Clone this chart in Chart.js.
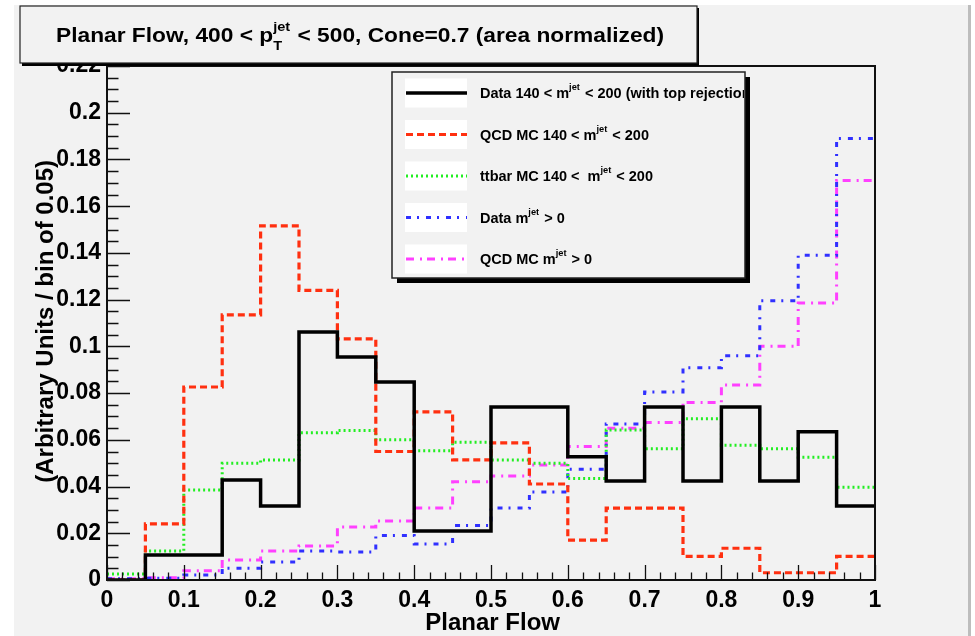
<!DOCTYPE html>
<html><head><meta charset="utf-8">
<script src="https://cdn.jsdelivr.net/npm/chart.js@4.4.1/dist/chart.umd.min.js"></script>
<style>html,body{margin:0;padding:0;background:#fff;}#wrap{position:relative;width:975px;height:636px;}canvas{display:block;}</style>
</head><body><div id="wrap"><canvas id="c" width="975" height="636"></canvas></div>
<script>
// ---- data ----
const binLow = [0,0.05,0.1,0.15,0.2,0.25,0.3,0.35,0.4,0.45,0.5,0.55,0.6,0.65,0.7,0.75,0.8,0.85,0.9,0.95];
const binEnd = 1.0;
const dataSel  = [0,0.0107,0.0107,0.0428,0.0317,0.1062,0.0955,0.0848,0.021,0.021,0.0741,0.0741,0.0527,0.0424,0.0741,0.0424,0.0741,0.0424,0.0634,0.0317];
const qcdSel   = [0,0.024,0.0826,0.1135,0.1516,0.124,0.1032,0.055,0.072,0.0514,0.0587,0.0411,0.0171,0.0308,0.0308,0.0101,0.0136,0.0031,0.0031,0.0101];
const ttbarSel = [0.0026,0.0124,0.0385,0.050,0.0514,0.063,0.064,0.060,0.0553,0.059,0.0514,0.050,0.0434,0.0642,0.0562,0.069,0.0577,0.0562,0.0525,0.0397];
const dataAll  = [0.0005,0.0008,0.0021,0.005,0.0077,0.0124,0.012,0.019,0.0154,0.0233,0.0308,0.0377,0.0474,0.0668,0.0805,0.0908,0.096,0.1195,0.139,0.189];
const qcdAll   = [0.0005,0.001,0.004,0.0086,0.0124,0.0146,0.0227,0.0253,0.0308,0.042,0.0445,0.0492,0.0571,0.065,0.0674,0.076,0.0835,0.100,0.1186,0.171];
const seriesNames = [
  'Data 140 < m^{jet} < 200 (with top rejection)',
  'QCD MC 140 < m^{jet} < 200',
  'ttbar MC 140 <  m^{jet} < 200',
  'Data m^{jet} > 0',
  'QCD MC m^{jet} > 0'
];
const xTickLabels = ['0','0.1','0.2','0.3','0.4','0.5','0.6','0.7','0.8','0.9','1'];
const titleText = 'Planar Flow, 400 < p^{jet}_{T} < 500, Cone=0.7 (area normalized)';
const xTitle = 'Planar Flow';
const yTitle = '(Arbitrary Units / bin of 0.05)';

// ---- styles ----
const FONT = '"Liberation Sans", Helvetica, Arial, sans-serif';
const BG = '#f2f2f2';
const styles = [
  {color:'#000000', width:3.5, dash:[]},
  {color:'#ff3010', width:3.2, dash:[7,4]},
  {color:'#22ee22', width:3, dash:[2,3]},
  {color:'#3030ff', width:3, dash:[5,6,2,7]},
  {color:'#ff40ff', width:3, dash:[8,6,2,5]}
];
const seriesValues = [dataSel, qcdSel, ttbarSel, dataAll, qcdAll];

function histPoints(vals){
  const pts = binLow.map((x,i)=>({x:x, y:vals[i]}));
  pts.push({x:binEnd, y:vals[vals.length-1]});
  return pts;
}

// ---- rich text helpers ----
function parseRich(s){
  const out=[]; let i=0, buf='';
  while(i<s.length){
    const c=s[i];
    if((c==='^'||c==='_') && s[i+1]==='{'){
      if(buf){out.push({t:buf,k:'n'});buf='';}
      const j=s.indexOf('}',i);
      out.push({t:s.slice(i+2,j),k:c==='^'?'sup':'sub'});
      i=j+1;
    } else {buf+=c;i++;}
  }
  if(buf) out.push({t:buf,k:'n'});
  return out;
}
function layoutRich(ctx,s,size){
  const segs=parseRich(s); let w=0; const items=[];
  const ss=size*0.64;
  for(let n=0;n<segs.length;n++){
    const sg=segs[n];
    if(sg.k==='n'){
      ctx.font=`bold ${size}px ${FONT}`;
      items.push({t:sg.t,k:'n',x:w,size:size});
      w+=ctx.measureText(sg.t).width;
    } else {
      ctx.font=`bold ${ss}px ${FONT}`;
      let sw=ctx.measureText(sg.t).width;
      items.push({t:sg.t,k:sg.k,x:w,size:ss});
      if(n+1<segs.length && segs[n+1].k!=='n' && segs[n+1].k!==sg.k){
        const s2=segs[n+1];
        items.push({t:s2.t,k:s2.k,x:w,size:ss});
        sw=Math.max(sw,ctx.measureText(s2.t).width); n++;
      }
      w+=sw+1;
    }
  }
  return {items,w};
}
function drawRich(ctx,s,x,y,size,opt){
  opt=opt||{};
  const L=layoutRich(ctx,s,size);
  let sx=1;
  if(opt.width) sx=opt.width/L.w;
  ctx.save();
  ctx.translate(x,y);
  ctx.scale(sx,1);
  ctx.textAlign='left'; ctx.textBaseline='alphabetic'; ctx.fillStyle='#000';
  for(const it of L.items){
    ctx.font=`bold ${it.size}px ${FONT}`;
    let dy=0;
    if(it.k==='sup') dy=-size*0.52;
    if(it.k==='sub') dy=size*0.36;
    ctx.fillText(it.t,it.x,dy);
  }
  ctx.restore();
}

// ---- plugin for ROOT-style frame, ticks, legend, title ----
const rootPlugin = {
  id:'rootStyle',
  beforeDraw(chart){
    const ctx=chart.ctx;
    ctx.save();
    ctx.fillStyle='#ffffff'; ctx.fillRect(0,0,975,636);
    ctx.fillStyle=BG; ctx.fillRect(14,5,954,631);
    ctx.fillStyle='#bdbdbd'; ctx.fillRect(968,5,3,631);
    ctx.restore();
  },
  afterDraw(chart){
    const ctx=chart.ctx, a=chart.chartArea;
    const xs=chart.scales.x, ys=chart.scales.y;
    ctx.save();
    // frame
    ctx.strokeStyle='#111'; ctx.lineWidth=2;
    ctx.strokeRect(a.left,a.top,a.right-a.left,a.bottom-a.top);
    // x ticks: major every 0.1, minor every 0.02
    ctx.lineWidth=1.3; ctx.strokeStyle='#111';
    ctx.beginPath();
    for(let k=0;k<=50;k++){
      const px=Math.round(xs.getPixelForValue(k*0.02))+0.5;
      const len=(k%5===0)?15:7.5;
      ctx.moveTo(px,a.bottom); ctx.lineTo(px,a.bottom-len);
    }
    // y ticks: major every 0.02, minor every 0.005
    for(let k=0;k<=44;k++){
      const py=Math.round(ys.getPixelForValue(k*0.005))+0.5;
      const len=(k%4===0)?23:11.5;
      ctx.moveTo(a.left,py); ctx.lineTo(a.left+len,py);
    }
    ctx.stroke();

    // legend
    const L={x:392,y:72,w:353,h:206};
    ctx.fillStyle='#000'; ctx.fillRect(L.x+5,L.y+5,L.w,L.h);
    ctx.fillStyle=BG; ctx.fillRect(L.x,L.y,L.w,L.h);
    ctx.strokeStyle='#222'; ctx.lineWidth=1.5; ctx.strokeRect(L.x,L.y,L.w,L.h);
    ctx.save();
    ctx.beginPath(); ctx.rect(L.x+1,L.y+1,L.w-2,L.h-2); ctx.clip();
    chart.data.datasets.forEach((ds,i)=>{
      const cy=93+i*41.5;
      ctx.fillStyle='#fff'; ctx.fillRect(405,cy-14.5,62,29);
      ctx.strokeStyle=ds.borderColor; ctx.lineWidth=ds.borderWidth;
      ctx.setLineDash(ds.borderDash||[]); ctx.lineCap='butt';
      ctx.beginPath(); ctx.moveTo(406,cy); ctx.lineTo(467,cy); ctx.stroke();
      ctx.setLineDash([]);
      drawRich(ctx,seriesNames[i],480,cy+5,14.5);
    });
    ctx.restore();

    // title box
    ctx.fillStyle='#000'; ctx.fillRect(22,8,677,58);
    ctx.fillStyle=BG; ctx.fillRect(20,6,677,57);
    ctx.strokeStyle='#222'; ctx.lineWidth=1.2; ctx.strokeRect(20,6,677,57);
    drawRich(ctx,titleText,56,42,21,{width:608});

    // axis titles
    ctx.fillStyle='#000';
    ctx.font=`bold 24px ${FONT}`;
    ctx.textAlign='right'; ctx.textBaseline='alphabetic';
    ctx.fillText(xTitle,560,630);
    ctx.save();
    ctx.translate(53,160); ctx.rotate(-Math.PI/2);
    ctx.textAlign='right';
    ctx.fillText(yTitle,0,0);
    ctx.restore();
    ctx.restore();
  }
};

const datasets = seriesValues.map((vals,i)=>({
  label: seriesNames[i].replace(/\^\{([^}]*)\}/g,'$1'),
  data: histPoints(vals),
  stepped: 'before',
  borderColor: styles[i].color,
  borderWidth: styles[i].width,
  borderDash: styles[i].dash,
  borderCapStyle:'butt',
  borderJoinStyle:'miter',
  pointRadius:0,
  fill:false,
  tension:0
}));

new Chart(document.getElementById('c'),{
  type:'line',
  data:{datasets: datasets},
  options:{
    responsive:false,
    animation:false,
    events:[],
    layout:{padding:{top:66,right:100,left:0,bottom:0}},
    plugins:{legend:{display:false},tooltip:{enabled:false},title:{display:false}},
    scales:{
      x:{
        type:'linear', min:0, max:1,
        grid:{display:false,drawTicks:false},
        border:{display:false},
        ticks:{stepSize:0.1, autoSkip:false, maxRotation:0, padding:7, color:'#000',
          font:{family:FONT, size:23, weight:'bold'},
          callback:(v,i)=>xTickLabels[i]},
        afterFit(s){s.height=56;}
      },
      y:{
        type:'linear', min:0, max:0.22,
        grid:{display:false,drawTicks:false},
        border:{display:false},
        ticks:{stepSize:0.02, autoSkip:false, padding:6, color:'#000',
          font:{family:FONT, size:23, weight:'bold'},
          callback:(v)=>String(+v.toFixed(2))},
        afterFit(s){s.width=107;}
      }
    }
  },
  plugins:[rootPlugin]
});
</script>
</body></html>
